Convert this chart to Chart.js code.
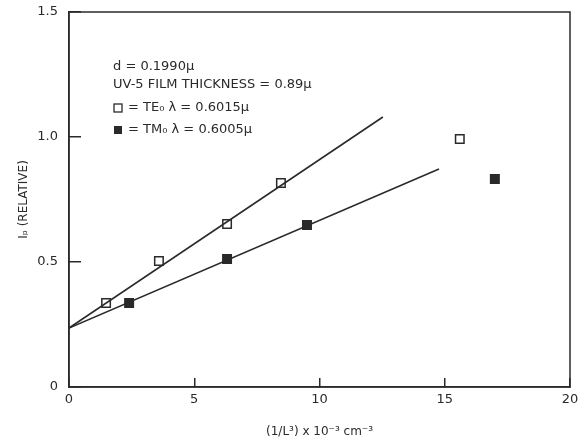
<!DOCTYPE html>
<html>
<head>
<meta charset="utf-8">
<script src="https://cdn.jsdelivr.net/npm/chart.js@4"></script>
<style>
  body { margin: 0; background: #fff; }
</style>
</head>
<body>
<canvas id="chart" width="582" height="441"></canvas>
<script>
// measured points (1/L^3 x 10^-3 cm^-3, relative I_p)
const teX = [1.48, 3.59, 6.31, 8.46, 15.6];
const teY = [0.336, 0.504, 0.652, 0.816, 0.992];
const tmX = [2.4, 6.31, 9.5, 17.0];
const tmY = [0.336, 0.512, 0.648, 0.832];
// straight-line fits drawn in the figure
const teFitX = [0, 12.53];
const teFitY = [0.236, 1.08];
const tmFitX = [0, 14.77];
const tmFitY = [0.236, 0.872];
const xTicks = [0, 5, 10, 15, 20];
const yTicks = [0, 0.5, 1.0, 1.5];
const notes = [
  "d = 0.1990\u03bc",
  "UV-5 FILM THICKNESS = 0.89\u03bc",
  "= TE\u2080 \u03bb = 0.6015\u03bc",
  "= TM\u2080 \u03bb = 0.6005\u03bc"
];

const ink = "#2a2a2a";
const font = "'DejaVu Sans', sans-serif";
const pts = (xs, ys) => xs.map((x, i) => ({ x: x, y: ys[i] }));

// frame and the text block
const decor = {
  id: "decor",
  afterDraw(chart) {
    const { ctx, chartArea: a } = chart;
    ctx.save();
    ctx.strokeStyle = ink;
    ctx.lineWidth = 1.5;
    ctx.strokeRect(a.left, a.top, a.right - a.left, a.bottom - a.top);

    ctx.fillStyle = ink;
    ctx.font = "13px " + font;
    ctx.textBaseline = "middle";
    const x0 = a.left + 44;
    const rows = [a.top + 55, a.top + 73, a.top + 96, a.top + 118];
    ctx.fillText(notes[0], x0, rows[0]);
    ctx.fillText(notes[1], x0, rows[1]);
    ctx.fillText(notes[2], x0 + 15, rows[2]);
    ctx.fillText(notes[3], x0 + 15, rows[3]);
    ctx.lineWidth = 1.3;
    ctx.strokeRect(x0 + 1, rows[2] - 4, 8, 8);
    ctx.fillRect(x0 + 1, rows[3] - 4, 8, 8);
    ctx.restore();
  }
};

new Chart(document.getElementById("chart"), {
  type: "scatter",
  data: {
    datasets: [
      { data: pts(teFitX, teFitY), showLine: true, pointRadius: 0, borderColor: ink, borderWidth: 1.6 },
      { data: pts(tmFitX, tmFitY), showLine: true, pointRadius: 0, borderColor: ink, borderWidth: 1.6 },
      { data: pts(teX, teY), pointStyle: "rect", pointRadius: 6, backgroundColor: "#fff", borderColor: ink, borderWidth: 1.5 },
      { data: pts(tmX, tmY), pointStyle: "rect", pointRadius: 6, backgroundColor: ink, borderColor: ink, borderWidth: 1.5 }
    ]
  },
  options: {
    responsive: false,
    animation: false,
    devicePixelRatio: 1,
    layout: { padding: { top: 12, right: 12, left: 0, bottom: 0 } },
    plugins: { legend: { display: false }, tooltip: { enabled: false } },
    scales: {
      x: {
        type: "linear", min: 0, max: 20,
        afterBuildTicks: s => { s.ticks = xTicks.map(v => ({ value: v })); },
        afterFit: s => { s.height = 54; s.paddingLeft = 0; s.paddingRight = 0; },
        grid: { drawOnChartArea: false, drawTicks: true, tickLength: -9, color: ink, lineWidth: 1.5 },
        border: { display: true, color: ink, width: 1.5 },
        ticks: { padding: 14, color: ink, font: { family: font, size: 13 }, callback: v => String(v) },
        title: { display: true, text: "(1/L\u00b3) x 10\u207b\u00b3 cm\u207b\u00b3", color: ink,
                 font: { family: font, size: 12 }, padding: { top: 4, bottom: 2 } }
      },
      y: {
        type: "linear", min: 0, max: 1.5,
        afterBuildTicks: s => { s.ticks = yTicks.map(v => ({ value: v })); },
        afterFit: s => { s.width = 69; s.paddingTop = 0; s.paddingBottom = 0; },
        grid: { drawOnChartArea: false, drawTicks: true, tickLength: -12, color: ink, lineWidth: 1.5 },
        border: { display: true, color: ink, width: 1.5 },
        ticks: { padding: 23, color: ink, font: { family: font, size: 13 },
                 callback: v => v === 0 ? "0" : v.toFixed(1) },
        title: { display: true, text: "I\u209a (RELATIVE)", color: ink,
                 font: { family: font, size: 12 }, padding: { top: 17, bottom: 0 } }
      }
    }
  },
  plugins: [decor]
});
</script>
</body>
</html>
